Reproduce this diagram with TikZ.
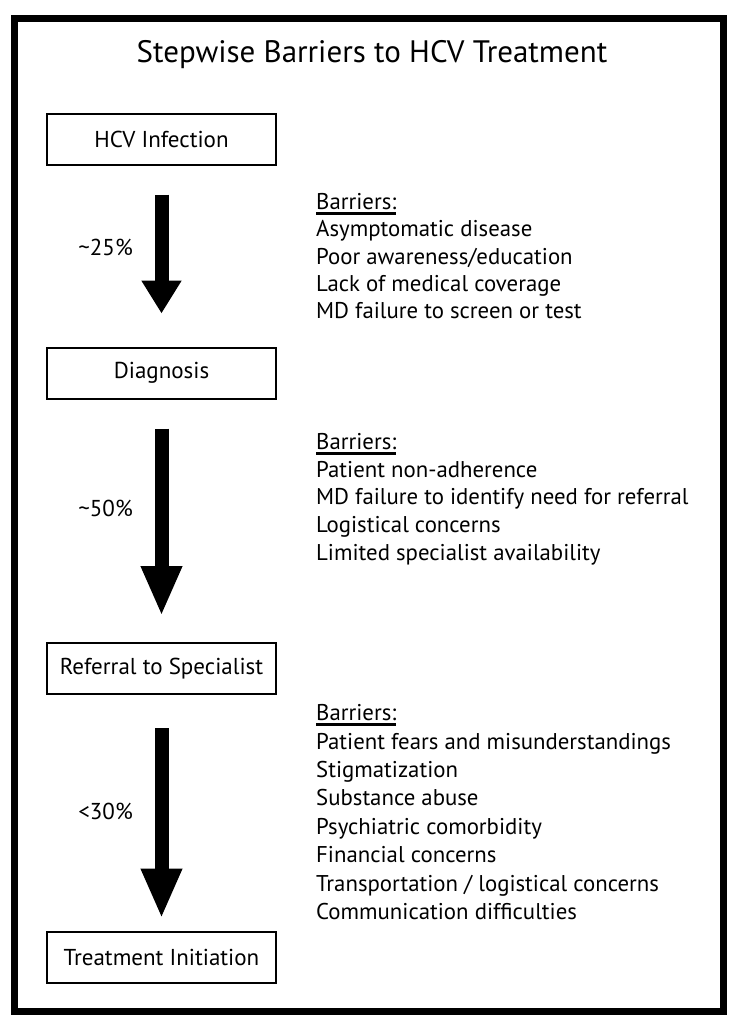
\documentclass[tikz,border=0pt]{standalone}
\usepackage{fontspec}
\setmainfont{PT Sans}
\usetikzlibrary{arrows.meta}
\newcommand{\barrierhead}{\setbox0\hbox{Barriers:}\rlap{\rule[-5pt]{\wd0}{2.8pt}}\box0}

\begin{document}
\begin{tikzpicture}[x=1pt,y=-1pt,
  stage/.style={draw,line width=2pt,minimum width=229pt,minimum height=51pt,inner sep=0pt,font=\fontsize{23}{27}\selectfont},
  flow/.style={line width=14pt,-{Triangle[length=50pt,width=38pt]}},
  share/.style={anchor=east,inner sep=0pt,font=\fontsize{23}{27}\selectfont},
  barrier/.style={anchor=north west,align=left,inner sep=0pt,font=\fontsize{22.8}{28.4}\selectfont}]
\useasboundingbox (0,0) rectangle (738,1026);
%\draw[step=50,very thin,color=gray] (0,0) grid (738,1026);
\draw[line width=7.5pt] (14.5,18.5) rectangle (723.5,1011.5);
\node[font=\fontsize{31}{35}\selectfont] (title) at (372,55) {Stepwise Barriers to HCV Treatment};

\node[stage] (inf) at (161.5,139) {HCV Infection};
\node[stage] (diag) at (161.5,373) {Diagnosis};
\node[stage] (refer) at (161.5,668.5) {Referral to Specialist};
\node[stage] (treat) at (161.5,957) {Treatment Initiation};

\draw[flow,-{Triangle[length=33pt,width=38pt]},shorten <=29pt,shorten >=33pt] (inf) -- (diag);
\draw[flow,shorten <=29pt,shorten >=26pt] (diag) -- (refer);
\draw[flow,shorten <=33pt,shorten >=12pt] (refer) -- (treat);

\node[share] (p1) at (133,247) {\textasciitilde25\%};
\node[share] (p2) at (133,508) {\textasciitilde50\%};
\node[share] (p3) at (133,811) {<30\%};

\node[barrier,font=\fontsize{22.8}{27.2}\selectfont] (b1) at (316,193.3) {\barrierhead\\
Asymptomatic disease\\
Poor awareness/education\\
Lack of medical coverage\\
MD failure to screen or test};
\node[barrier,font=\fontsize{22.8}{27.6}\selectfont] (b2) at (316,433.3) {\barrierhead\\
Patient non-adherence\\
MD failure to identify need for referral\\
Logistical concerns\\
Limited specialist availability};
\node[barrier] (b3) at (316,704.3) {\barrierhead\\
Patient fears and misunderstandings\\
Stigmatization\\
Substance abuse\\
Psychiatric comorbidity\\
Financial concerns\\
Transportation / logistical concerns\\
Communication difficulties};
\end{tikzpicture}
\end{document}
